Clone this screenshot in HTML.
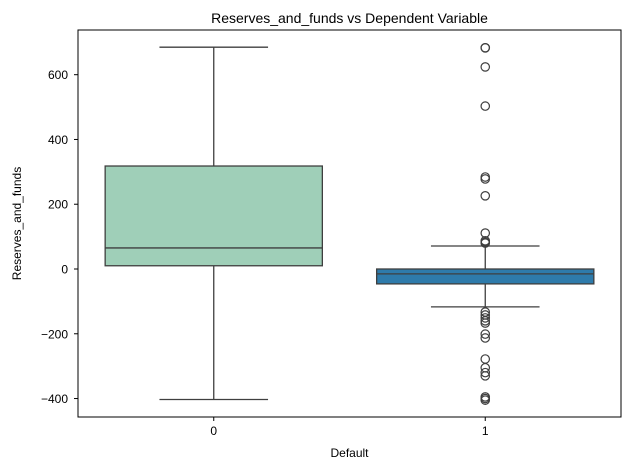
<!DOCTYPE html>
<html><head><meta charset="utf-8"><style>
body{margin:0;background:#fff;font-family:"Liberation Sans","DejaVu Sans",sans-serif}
</style></head><body>
<svg id="c" width="630" height="470" xmlns="http://www.w3.org/2000/svg"></svg>
<script>
const categories=["0","1"];
const q1=[10,-46];
const medians=[65,-15];
const q3=[318,0];
const whiskLo=[-403,-117];
const whiskHi=[685,71];
const colors=["#9fcfb8","#2e7bab"];
const outliers0=[];
const outliers1=[683,683,624,503,284,278,226,111,87,83,80,-133,-142,-151,-160,-167,-201,-213,-278,-305,-320,-330,-395,-400,-405];
const yTicks=[-400,-200,0,200,400,600];
const L=78,R=621,T=30,B=417,ymin=-457,ymax=738;
const y=v=>B-(v-ymin)/(ymax-ymin)*(B-T);
const bw=(R-L)/categories.length;
const x=i=>L+bw*(i+0.5);
const s=document.getElementById('c');const NS="http://www.w3.org/2000/svg";
function el(t,a,txt){const e=document.createElementNS(NS,t);for(const k in a)e.setAttribute(k,a[k]);if(txt!==undefined)e.textContent=txt;s.appendChild(e);return e;}
const outs=[outliers0,outliers1];
categories.forEach((c,i)=>{
 const cx=x(i),w=bw*0.8,g="#3f3f3f";
 let e=el('line',{x1:cx,x2:cx,y1:y(whiskLo[i]),y2:y(q1[i]),stroke:g,'stroke-width':1.3});
 
 e=el('line',{x1:cx,x2:cx,y1:y(q3[i]),y2:y(whiskHi[i]),stroke:g,'stroke-width':1.3});
 
 e=el('line',{x1:cx-w/4,x2:cx+w/4,y1:y(whiskLo[i]),y2:y(whiskLo[i]),stroke:g,'stroke-width':1.3});
 
 e=el('line',{x1:cx-w/4,x2:cx+w/4,y1:y(whiskHi[i]),y2:y(whiskHi[i]),stroke:g,'stroke-width':1.3});
 
 e=el('rect',{x:cx-w/2,y:y(q3[i]),width:w,height:y(q1[i])-y(q3[i]),fill:colors[i],stroke:g,'stroke-width':1.3});
 
 e=el('line',{x1:cx-w/2,x2:cx+w/2,y1:y(medians[i]),y2:y(medians[i]),stroke:g,'stroke-width':1.3});
 
 outs[i].forEach(v=>{const o=el('circle',{cx:cx,cy:y(v),r:4.2,fill:'none',stroke:g,'stroke-width':1.2});
 });
 e=el('line',{x1:cx,x2:cx,y1:B,y2:B+4,stroke:'#000'});
 
 e=el('text',{x:cx,y:B+18,'text-anchor':'middle','font-size':12},c);
 
});
yTicks.forEach(v=>{let e=el('line',{x1:L-4,x2:L,y1:y(v),y2:y(v),stroke:'#000'});
 
 e=el('text',{x:L-10,y:y(v)+4.5,'text-anchor':'end','font-size':12},v===0?'0':String(v).replace('-','\u2212'));
 });
let f=el('rect',{x:L,y:T,width:R-L,height:B-T,fill:'none',stroke:'#000','stroke-width':1});

f=el('text',{x:(L+R)/2,y:23,'text-anchor':'middle','font-size':14},'Reserves_and_funds vs Dependent Variable');

f=el('text',{x:(L+R)/2,y:457,'text-anchor':'middle','font-size':12},'Default');

f=el('text',{x:21,y:(T+B)/2,'text-anchor':'middle','font-size':12,transform:'rotate(-90 21 '+((T+B)/2)+')'},'Reserves_and_funds');

</script>
</body></html>
